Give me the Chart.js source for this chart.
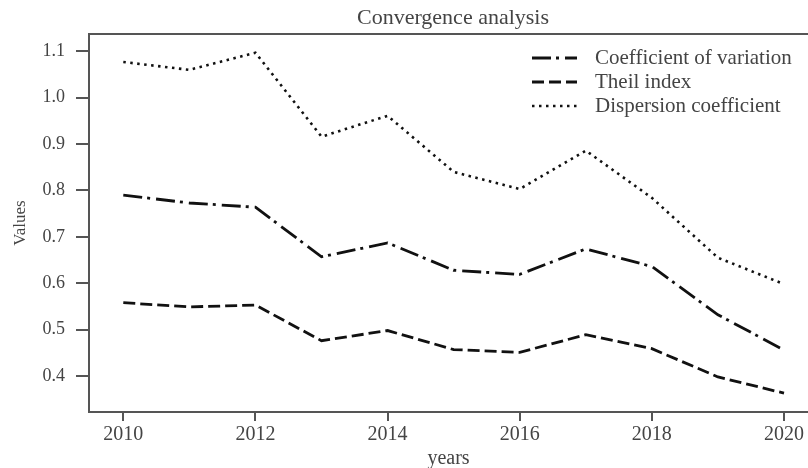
<!DOCTYPE html>
<html>
<head>
<meta charset="utf-8">
<script src="https://cdn.jsdelivr.net/npm/chart.js@4"></script>
<style>
  html, body { margin: 0; padding: 0; background: #fff; }
  #wrap { width: 808px; height: 468px; }
</style>
</head>
<body>
<div id="wrap"><canvas id="myChart" width="808" height="468"></canvas></div>
<script>
// chart data
const years = [2010, 2011, 2012, 2013, 2014, 2015, 2016, 2017, 2018, 2019, 2020];
const coefVariation = [0.790, 0.773, 0.764, 0.657, 0.687, 0.628, 0.619, 0.674, 0.636, 0.532, 0.456];
const theilIndex = [0.558, 0.549, 0.553, 0.476, 0.498, 0.457, 0.451, 0.489, 0.459, 0.398, 0.363];
const dispersionCoef = [1.077, 1.060, 1.097, 0.916, 0.961, 0.840, 0.803, 0.886, 0.784, 0.655, 0.598];
const xTicks = [2010, 2012, 2014, 2016, 2018, 2020];
const yTicks = [0.4, 0.5, 0.6, 0.7, 0.8, 0.9, 1.0, 1.1];
const seriesNames = ["Coefficient of variation", "Theil index", "Dispersion coefficient"];
const chartTitle = "Convergence analysis";

const serif = "'Liberation Serif', 'DejaVu Serif', serif";
const textColor = "#444";
const axisColor = "#555";

function points(vals) {
    return years.map((y, i) => ({ x: y, y: vals[i] }));
}

// title, legend and top border drawn by hand
const extras = {
    id: 'extras',
    afterDraw(chart) {
        const ctx = chart.ctx;
        const area = chart.chartArea;
        ctx.save();
        // top frame line
        ctx.strokeStyle = axisColor;
        ctx.lineWidth = 2;
        ctx.beginPath();
        ctx.moveTo(area.left, area.top);
        ctx.lineTo(area.right, area.top);
        ctx.stroke();
        // title
        ctx.fillStyle = textColor;
        ctx.font = "22px " + serif;
        ctx.textAlign = "center";
        ctx.textBaseline = "middle";
        ctx.fillText(chartTitle, 453, 18);
        // legend
        ctx.font = "21px " + serif;
        ctx.textAlign = "left";
        chart.data.datasets.forEach((ds, i) => {
            const y = 58 + i * 24;
            ctx.strokeStyle = ds.borderColor;
            ctx.lineWidth = ds.borderWidth;
            ctx.setLineDash(ds.borderDash);
            ctx.beginPath();
            ctx.moveTo(532, y);
            ctx.lineTo(577, y);
            ctx.stroke();
            ctx.setLineDash([]);
            ctx.fillStyle = textColor;
            ctx.fillText(ds.label, 595, y);
        });
        ctx.restore();
    }
};

let ctx = document.getElementById('myChart').getContext('2d');
let myChart = new Chart(ctx, {
    type: 'line',
    data: {
        datasets: [{
            label: seriesNames[0],
            data: points(coefVariation),
            borderColor: "#111",
            borderWidth: 2.8,
            borderDash: [19, 5, 3, 6]
        }, {
            label: seriesNames[1],
            data: points(theilIndex),
            borderColor: "#111",
            borderWidth: 2.8,
            borderDash: [12, 5]
        }, {
            label: seriesNames[2],
            data: points(dispersionCoef),
            borderColor: "#111",
            borderWidth: 2.6,
            borderDash: [2.5, 4.5]
        }]
    },
    options: {
        responsive: false,
        animation: false,
        layout: { padding: { top: 34, left: 0, right: 0, bottom: 0 } },
        elements: {
            point: { radius: 0 },
            line: { tension: 0, fill: false }
        },
        plugins: {
            legend: { display: false },
            title: { display: false },
            tooltip: { enabled: false }
        },
        scales: {
            x: {
                type: 'linear',
                min: 2009.481,
                max: 2020.363,
                afterFit(scale) { scale.height = 56; },
                afterBuildTicks(scale) { scale.ticks = xTicks.map(v => ({ value: v })); },
                grid: { drawOnChartArea: false, drawTicks: true, tickLength: 9, color: axisColor, lineWidth: 2 },
                border: { display: true, color: axisColor, width: 2 },
                ticks: {
                    color: textColor,
                    padding: 2,
                    maxRotation: 0,
                    autoSkip: false,
                    font: { family: serif, size: 20 },
                    callback: v => String(v)
                },
                title: {
                    display: true,
                    text: "years",
                    color: textColor,
                    font: { family: serif, size: 20, lineHeight: 0.9 },
                    padding: { top: 0, bottom: 0 }
                }
            },
            y: {
                min: 0.3224,
                max: 1.1373,
                afterFit(scale) { scale.width = 89; },
                afterBuildTicks(scale) { scale.ticks = yTicks.map(v => ({ value: v })); },
                grid: { drawOnChartArea: false, drawTicks: true, tickLength: 13, color: axisColor, lineWidth: 2 },
                border: { display: true, color: axisColor, width: 2 },
                ticks: {
                    color: textColor,
                    padding: 11,
                    autoSkip: false,
                    font: { family: serif, size: 18 },
                    callback: v => v.toFixed(1)
                },
                title: {
                    display: true,
                    text: "Values",
                    color: textColor,
                    font: { family: serif, size: 17, lineHeight: 1 },
                    padding: { top: 12, bottom: 0 }
                }
            }
        }
    },
    plugins: [extras]
});
</script>
</body>
</html>
